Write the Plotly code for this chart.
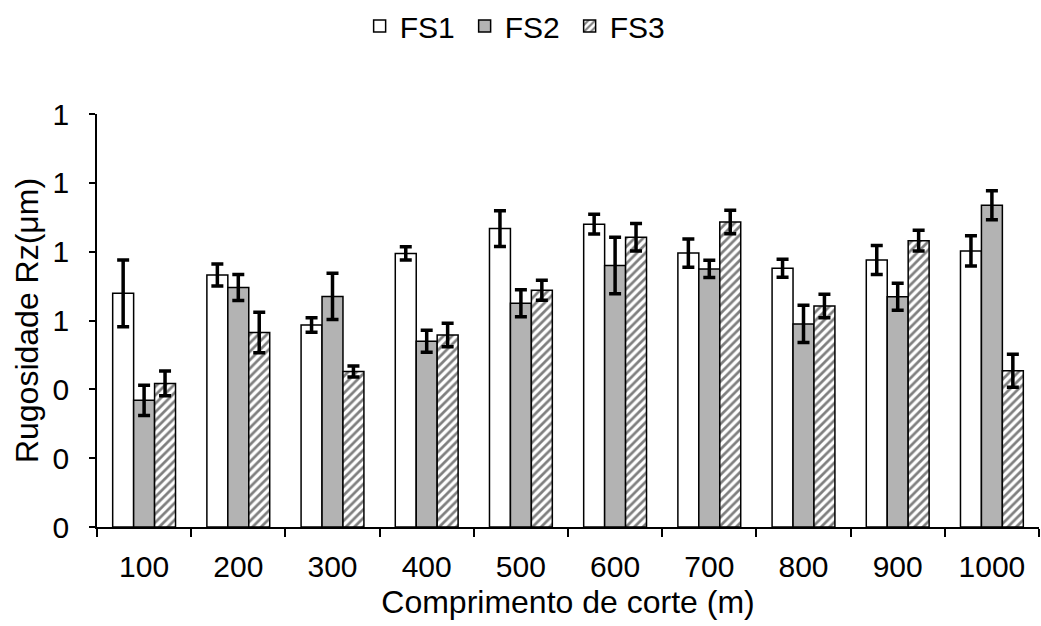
import plotly.graph_objects as go

categories = ["100", "200", "300", "400", "500", "600", "700", "800", "900", "1000"]
fs1 = [0.679, 0.732, 0.587, 0.795, 0.867, 0.880, 0.796, 0.752, 0.776, 0.802]
fs1_err = [0.097, 0.032, 0.021, 0.019, 0.052, 0.029, 0.041, 0.026, 0.042, 0.044]
fs2 = [0.368, 0.696, 0.670, 0.540, 0.650, 0.760, 0.750, 0.590, 0.669, 0.935]
fs2_err = [0.044, 0.038, 0.067, 0.032, 0.039, 0.082, 0.025, 0.054, 0.039, 0.042]
fs3 = [0.417, 0.565, 0.452, 0.558, 0.688, 0.842, 0.886, 0.642, 0.832, 0.454]
fs3_err = [0.036, 0.059, 0.016, 0.034, 0.029, 0.040, 0.034, 0.034, 0.030, 0.048]
y_ticks = [0, 0.2, 0.4, 0.6, 0.8, 1.0, 1.2]

font = "Arial"
err_style = dict(type="data", thickness=3.5, width=6, color="black")
line_style = dict(color="black", width=1.5)

fig = go.Figure()
fig.add_trace(go.Bar(
    name="FS1", x=categories, y=fs1,
    error_y=dict(array=fs1_err, **err_style),
    marker=dict(color="white", line=line_style),
))
fig.add_trace(go.Bar(
    name="FS2", x=categories, y=fs2,
    error_y=dict(array=fs2_err, **err_style),
    marker=dict(color="#B3B3B3", line=line_style),
))
fig.add_trace(go.Bar(
    name="FS3", x=categories, y=fs3,
    error_y=dict(array=fs3_err, **err_style),
    marker=dict(color="white", line=line_style,
                pattern=dict(shape="/", fgcolor="black", bgcolor="white",
                             size=6, solidity=0.45)),
))

fig.update_layout(
    width=1041, height=626,
    paper_bgcolor="white", plot_bgcolor="white",
    barmode="group", bargap=0.333, bargroupgap=0,
    margin=dict(l=97, r=2, t=114, b=99),
    font=dict(family=font, size=30, color="black"),
    legend=dict(orientation="h", x=0.446, xanchor="center", y=1.0, yanchor="top",
                yref="container", font=dict(size=30), itemwidth=30,
                entrywidth=60, entrywidthmode="pixels",
                traceorder="normal", tracegroupgap=0),
    showlegend=True,
)
fig.update_xaxes(
    showline=True, linecolor="black", linewidth=1.5,
    ticks="outside", tickson="boundaries", ticklen=8, tickcolor="black", tickwidth=1.5,
    showgrid=False, tickfont=dict(size=30), ticklabelstandoff=12,
    title=dict(text="Comprimento de corte (m)", font=dict(size=32), standoff=9),
)
fig.update_yaxes(
    range=[0, 1.2], tickvals=y_ticks, tickformat=".0f",
    showline=True, linecolor="black", linewidth=1.5,
    ticks="outside", ticklen=6, tickcolor="black", tickwidth=1.5,
    showgrid=False, zeroline=False, tickfont=dict(size=30), ticklabelstandoff=14,
    title=dict(text="Rugosidade Rz(μm)", font=dict(size=32), standoff=4),
)

fig.write_html("out.html")
